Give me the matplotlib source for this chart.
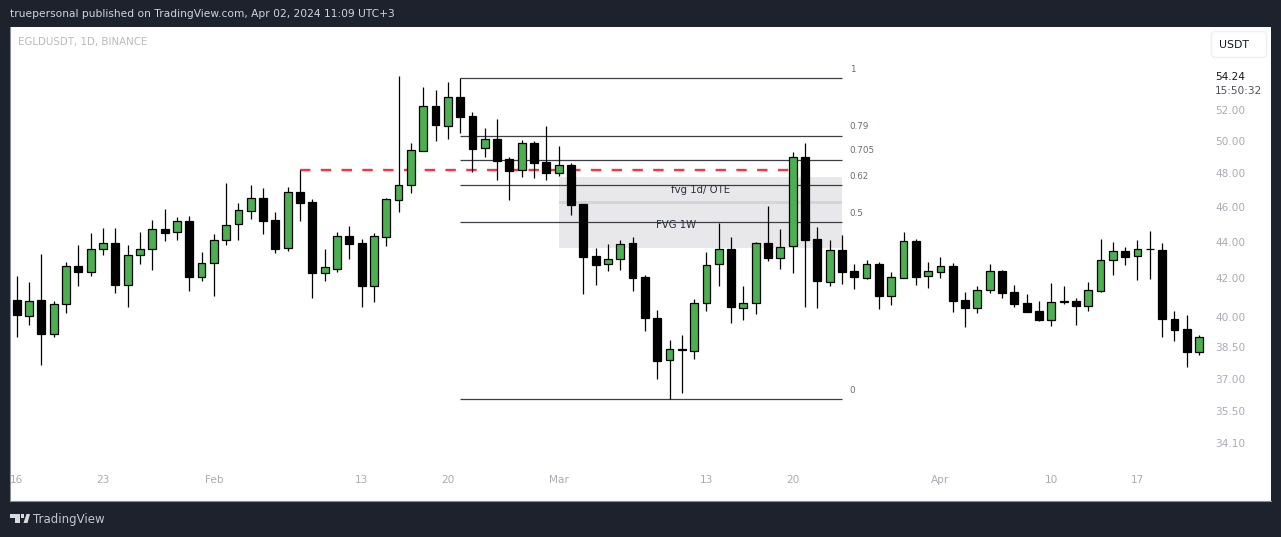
import matplotlib
matplotlib.use('Agg')
import matplotlib.pyplot as plt
from matplotlib.patches import FancyBboxPatch, Polygon, Rectangle
import numpy as np

# daily EGLDUSDT candles
opens = [40.88,40.06,40.88,39.17,40.64,42.68,42.37,43.57,43.94,41.67,43.24,43.57,44.73,44.52,45.18,42.10,42.81,44.07,44.97,45.77,
         46.51,45.24,43.63,46.87,46.28,42.31,42.53,44.33,43.94,41.62,44.29,46.41,47.25,49.38,52.25,50.97,52.85,51.59,49.51,50.11,
         48.87,48.15,49.86,48.68,48.02,48.49,46.16,43.23,42.75,43.03,43.94,42.08,39.95,37.86,38.40,38.33,40.74,42.75,43.61,40.48,
         40.69,43.94,43.08,43.74,48.99,44.16,41.83,43.55,42.40,42.04,42.79,41.10,42.04,44.04,42.15,42.37,42.68,40.88,40.48,41.41,
         42.40,41.29,40.72,40.31,39.87,40.77,40.83,40.58,41.36,42.97,43.50,43.19,43.61,43.55,39.90,39.40,38.29]
highs = [42.13,41.81,43.33,40.83,42.90,43.83,44.50,44.78,44.78,43.83,44.56,45.24,45.87,45.41,45.47,43.44,44.45,47.41,46.22,47.29,
         47.11,45.70,47.17,48.19,46.46,43.61,44.56,44.90,44.16,44.50,46.51,54.30,49.86,53.53,53.33,53.86,54.11,51.85,50.82,51.40,
         48.99,50.04,49.98,50.95,49.67,48.62,46.16,43.66,43.88,44.10,44.27,42.18,40.36,38.86,39.11,40.93,43.44,45.07,44.27,41.60,
         43.99,46.04,44.73,49.30,49.86,44.84,44.10,44.39,42.79,43.01,42.90,42.35,44.56,44.16,42.90,43.17,42.84,41.29,41.60,42.79,
         42.46,41.66,41.19,40.83,41.76,41.60,40.98,41.81,44.16,43.99,43.72,44.10,44.61,43.94,40.31,40.10,39.10]
lows = [39.02,39.60,37.62,39.02,40.22,41.60,42.13,43.28,41.24,40.52,42.79,42.46,44.04,44.10,41.35,41.86,41.09,43.83,44.10,45.30,
        44.45,43.39,43.50,45.18,40.98,41.86,42.35,43.06,40.52,40.77,43.77,45.70,46.81,49.38,49.98,50.11,50.50,48.06,48.99,47.58,
        46.40,47.76,47.70,47.58,47.82,45.52,41.19,41.66,42.40,42.46,41.35,39.30,36.98,36.04,36.33,37.94,40.31,41.60,39.70,39.85,
        40.15,42.95,42.51,42.29,40.52,40.47,41.60,41.71,41.45,41.97,40.41,40.62,42.04,41.66,41.50,42.02,40.26,39.50,40.20,41.24,
        40.98,40.52,40.26,39.80,39.55,40.67,39.60,40.31,41.29,42.18,42.73,41.92,41.97,39.00,38.81,37.55,38.13]
closes = [40.10,40.81,39.15,40.65,42.66,42.35,43.59,43.92,41.66,43.26,43.59,44.71,44.50,45.16,42.08,42.83,44.09,44.94,45.79,46.49,
          45.18,43.61,46.85,46.22,42.29,42.60,44.31,43.88,41.60,44.31,46.43,47.27,49.40,52.23,51.01,52.85,51.53,49.49,50.09,48.76,
          48.12,49.84,48.62,48.00,48.47,46.10,43.17,42.73,43.04,43.86,42.02,39.95,37.84,38.40,38.38,40.71,42.71,43.59,40.52,40.71,
          43.92,43.12,43.70,48.97,44.10,41.86,43.53,42.35,42.08,42.77,41.09,42.08,44.03,42.08,42.38,42.66,40.83,40.47,41.38,42.38,
          41.24,40.67,40.26,39.85,40.76,40.81,40.57,41.38,42.99,43.48,43.17,43.59,43.57,39.90,39.35,38.27,38.98]

fib_levels = [1, 0.79, 0.705, 0.62, 0.5, 0]
fib_labels = ['1', '0.79', '0.705', '0.62', '0.5', '0']
fib_prices = [54.11, 50.30, 48.80, 47.27, 45.10, 36.04]
fib_start, fib_end = 36, 67

red_price = 48.21
red_start, red_end = 23, 63

# fair value gap boxes: name, bottom, top, where the label sits
fvg_names = ['fvg 1d/ OTE', 'FVG 1W']
fvg_bottoms = [46.16, 43.66]
fvg_tops = [47.78, 46.32]
fvg_label_x = [55.5, 53.5]
fvg_label_y = [47.0, 44.95]
fvg_start, fvg_end = 44, 67

price_ticks = [54.24, 52, 50, 48, 46, 44, 42, 40, 38.5, 37, 35.5, 34.1]
price_labels = ['54.24', '52.00', '50.00', '48.00', '46.00', '44.00', '42.00', '40.00', '38.50', '37.00', '35.50', '34.10']

date_ticks = [0, 7, 16, 28, 35, 44, 56, 63, 75, 84, 91]
date_labels = ['16', '23', 'Feb', '13', '20', 'Mar', '13', '20', 'Apr', '10', '17']

W, H = 1281, 537
BG = '#1e222d'
GREEN = '#4caf50'
GREY = '#a9acb6'

plt.rcParams['font.family'] = ['DejaVu Sans']
fig = plt.figure(figsize=(W / 100, H / 100), dpi=100, facecolor=BG)

# white chart panel, x 10..1271, y 27..501 in pixels
ax = fig.add_axes([10 / W, (H - 501) / H, 1261 / W, 474 / H], facecolor='white')
ax.set_yscale('log')
ax.set_xlim(-0.55, 101.84)
ax.set_ylim(31.69, 57.74)

for i in range(len(opens)):
    up = closes[i] >= opens[i]
    ax.vlines(i, lows[i], highs[i], color='black', lw=0.9, zorder=4)
    ax.bar(i, closes[i] - opens[i], bottom=opens[i], width=0.64,
           color=GREEN if up else 'black', edgecolor='black', lw=0.9, zorder=5)

for k in range(len(fib_prices)):
    ax.hlines(fib_prices[k], fib_start, fib_end, color='#3c3f46', lw=0.9, zorder=3)
    ax.annotate(fib_labels[k], (fib_end, fib_prices[k]), xytext=(5.5, 6.5), textcoords='offset points',
                fontsize=6.3, color='#6a6d78', ha='left', va='center')

ax.hlines(red_price, red_start, red_end, color='#f23645', lw=1.7, linestyles=(0, (4.4, 4.4)), zorder=3)

for k in range(len(fvg_names)):
    ax.fill_between([fvg_start, fvg_end], fvg_bottoms[k], fvg_tops[k], color='#787b86', alpha=0.17, lw=0, zorder=2)
    ax.text(fvg_label_x[k], fvg_label_y[k], fvg_names[k], fontsize=7.3, color='#2a2e39',
            ha='center', va='center', zorder=6)

ax.set_xticks(date_ticks, date_labels)
ax.set_yticks(price_ticks, price_labels)
ax.minorticks_off()
ax.yaxis.tick_right()
ax.tick_params(axis='x', length=0, pad=-19, labelsize=7.6, labelcolor=GREY)
ax.tick_params(axis='y', length=0, pad=-40, labelsize=7.6, labelcolor=GREY)
for lab in ax.get_yticklabels():
    lab.set_ha('left')
ax.get_yticklabels()[0].set_color('#131722')

for side in ['top', 'right']:
    ax.spines[side].set_visible(False)
for side in ['left', 'bottom']:
    ax.spines[side].set_color('#8a8d96')
    ax.spines[side].set_linewidth(0.8)

# overlay in pixel coordinates for header, footer and the unit button
over = fig.add_axes([0, 0, 1, 1], facecolor='none')
over.set_xlim(0, W)
over.set_ylim(H, 0)
over.axis('off')

over.text(10, 14, 'truepersonal published on TradingView.com, Apr 02, 2024 11:09 UTC+3',
          fontsize=7.7, color='#d1d4dc', va='center', ha='left')
over.text(18, 42, 'EGLDUSDT, 1D, BINANCE', fontsize=7.4, color='#b8bac2', va='center', ha='left')
over.text(1215, 90.5, '15:50:32', fontsize=7.6, color='#50535e', va='center', ha='left')

over.add_patch(FancyBboxPatch((1211.5, 31.5), 55, 26, boxstyle='round,pad=0,rounding_size=4',
                              fc='white', ec='#eceff6', lw=1))
over.text(1234, 44.5, 'USDT', fontsize=7.8, color='#131722', ha='center', va='center')

LOGO = '#d8dae0'
over.add_patch(Polygon([(10, 514), (20, 514), (20, 523), (15, 523), (15, 518), (10, 518)], fc=LOGO, lw=0))
over.add_patch(Rectangle((21, 514), 3, 3.5, fc=LOGO, lw=0))
over.add_patch(Polygon([(23.5, 523), (27.5, 523), (30, 514), (26.5, 514)], fc=LOGO, lw=0))
over.text(33, 519.5, 'TradingView', fontsize=8.5, color='#c4c6ce', va='center', ha='left')

fig.savefig('out.png', dpi=100, facecolor=BG)
